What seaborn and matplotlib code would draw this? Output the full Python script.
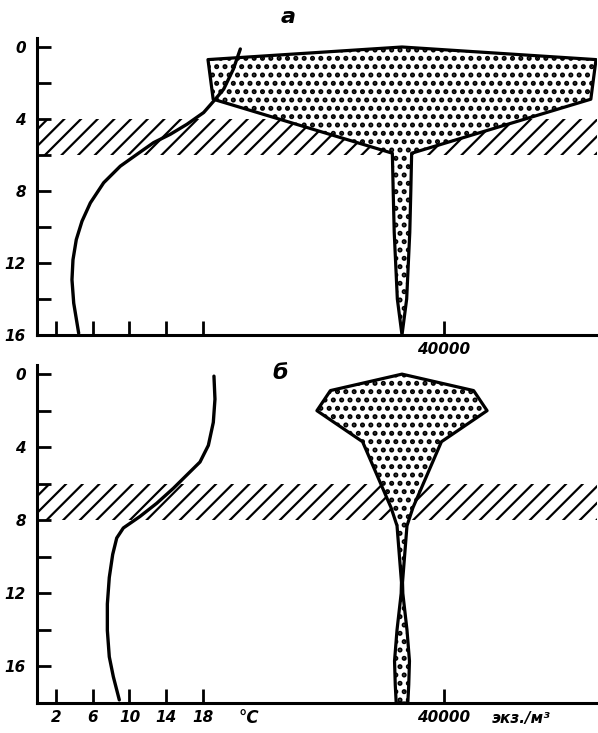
import matplotlib
matplotlib.use("Agg")
import matplotlib.pyplot as plt
import seaborn as sns
import pandas as pd

# ---------------- data ----------------
# temperature profiles (°C vs depth, m)
depth_temp_a = [0.11, 1.23, 2.34, 2.90, 3.64, 4.29, 4.85, 5.31, 5.96, 6.62, 7.54, 8.66,
                9.68, 10.70, 11.82, 12.93, 14.23, 15.90]
temp_a = [22.06, 21.3, 20.25, 19.34, 18.07, 16.26, 14.44, 12.63, 10.82, 9.0, 7.19, 5.74,
          4.83, 4.21, 3.85, 3.74, 3.93, 4.47]
depth_temp_b = [0.11, 1.37, 2.64, 3.90, 4.81, 5.53, 6.25, 7.07, 7.79, 8.42, 8.97, 9.87,
                11.13, 12.58, 14.03, 15.47, 16.56, 17.83]
temp_b = [19.19, 19.30, 19.12, 18.58, 17.67, 16.22, 14.77, 12.96, 11.14, 9.33, 8.61, 8.17,
          7.80, 7.59, 7.59, 7.80, 8.24, 8.89]

# abundance (half-width of the figure, ind./m3) vs depth
depth_abund_a = [0.0, 0.7, 2.9, 5.9, 8.0, 10.3, 14.0, 16.0]
abund_a = [0, 187000, 182000, 9300, 8500, 7500, 4500, 0]
depth_abund_b = [0.0, 0.9, 2.0, 3.7, 7.3, 8.3, 11.4, 12.0, 14.0, 15.7, 17.0, 18.0]
abund_b = [0, 69000, 82000, 38000, 10600, 4800, 500, 800, 4800, 7200, 6500, 5600]

# thermocline layers (m)
layer_a = (4, 6)
layer_b = (6, 8)

temp_ticks = [2, 6, 10, 14, 18]
abund_tick = 40000
depth_ticks_a = list(range(0, 17, 2))
depth_ticks_b = list(range(0, 17, 2))

# ---------------- style ----------------
sns.set_style("ticks")
plt.rcParams["font.family"] = ["Liberation Sans Narrow", "DejaVu Sans"]
plt.rcParams["font.weight"] = "bold"
plt.rcParams["font.style"] = "italic"
plt.rcParams["hatch.linewidth"] = 1.6
plt.rcParams["axes.linewidth"] = 2.2
for k in ["text.color", "axes.edgecolor", "axes.labelcolor", "xtick.color", "ytick.color"]:
    plt.rcParams[k] = "black"

fig = plt.figure(figsize=(5.98, 7.33), dpi=100)
W, H = 598, 733
left_px, right_px = 37, 597
ax_top = fig.add_axes([left_px / W, 1 - 335 / H, (right_px - left_px) / W, (335 - 38) / H])
ax_bot = fig.add_axes([left_px / W, 1 - 703 / H, (right_px - left_px) / W, (703 - 365) / H])

# x mappings
T0_px, T_scale = 37.6, 9.19            # px of 0 °C, px per °C
center_px, px40k = 402, 41.5          # center line of abundance figure, px per 40000
temp_lim = ((left_px - T0_px) / T_scale, (right_px - T0_px) / T_scale)
abund_lim = ((left_px - center_px) / px40k * 40000, (right_px - center_px) / px40k * 40000)


def panel(ax, d_t, t, d_a, a, layer, ylim_bottom, yticks, show_temp_labels, letter, letter_pos):
    ax.set_xlim(*abund_lim)
    ax.set_ylim(ylim_bottom, -0.5)
    # hatched layer
    ax.axhspan(layer[0], layer[1], facecolor="none", edgecolor="black",
               hatch="//", linewidth=0, zorder=1)
    # abundance figure (stippled)
    with plt.rc_context({"hatch.linewidth": 2.4}):
        ax.fill_betweenx(d_a, [-v for v in a], a, facecolor="white", edgecolor="black",
                         hatch="..", linewidth=2.3, zorder=3)
    ax.set_xticks([abund_tick])
    ax.set_xticklabels(["40000"])
    ax.set_yticks(yticks)
    ax.set_yticklabels([str(v) if v % 4 == 0 else "" for v in yticks])
    ax.tick_params(axis="both", direction="in", length=10, width=2, labelsize=11, pad=5)
    ax.tick_params(axis="y", pad=8)
    for s in ["top", "right"]:
        ax.spines[s].set_visible(False)
    ax.set_xlabel("")
    ax.set_ylabel("")

    axT = ax.twiny()
    axT.set_xlim(*temp_lim)
    df = pd.DataFrame({"temp": t, "depth": d_t})
    sns.lineplot(data=df, x="temp", y="depth", sort=False, estimator=None,
                 color="black", linewidth=2.4, ax=axT, zorder=5)
    axT.set_ylim(ylim_bottom, -0.5)
    axT.xaxis.set_ticks_position("bottom")
    axT.xaxis.set_label_position("bottom")
    axT.set_xticks(temp_ticks)
    if show_temp_labels:
        axT.set_xticklabels([str(v) for v in temp_ticks])
    else:
        axT.set_xticklabels([])
    axT.tick_params(axis="x", direction="in", length=10, width=2, labelsize=11, pad=5)
    for s in axT.spines.values():
        s.set_visible(False)
    axT.set_xlabel("")
    axT.set_ylabel("")
    fig.text(letter_pos[0] / W, 1 - letter_pos[1] / H, letter, fontsize=16,
             ha="center", va="center", fontweight="bold", fontstyle="italic")
    return axT


panel(ax_top, depth_temp_a, temp_a, depth_abund_a, abund_a, layer_a, 16,
      depth_ticks_a, False, "а", (288, 17))
axTb = panel(ax_bot, depth_temp_b, temp_b, depth_abund_b, abund_b, layer_b, 18,
             depth_ticks_b, True, "б", (280, 373))

# unit labels
fig.text(249 / W, 1 - 718 / H, "°C", fontsize=12, ha="center", va="center",
         fontweight="bold", fontstyle="italic")
fig.text(521 / W, 1 - 718 / H, "экз./м³", fontsize=11, ha="center", va="center",
         fontweight="bold", fontstyle="italic")

fig.savefig("out.png", dpi=100)
